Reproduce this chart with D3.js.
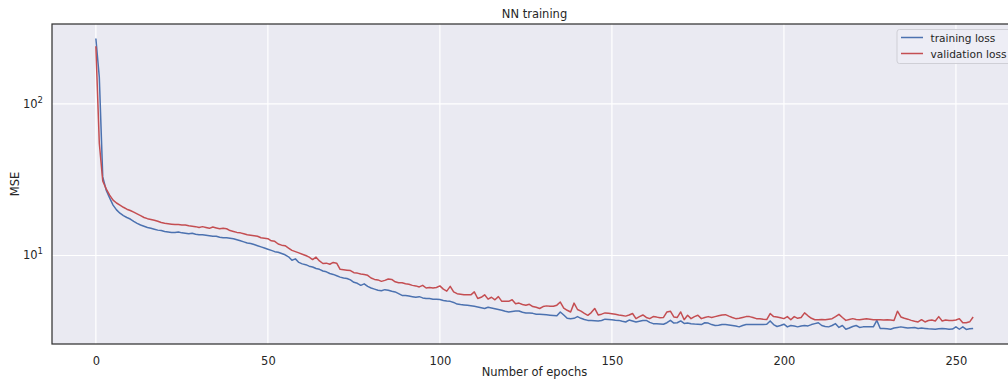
<!DOCTYPE html>
<html><head><meta charset="utf-8">
<script src="https://cdn.jsdelivr.net/npm/d3@7"></script>
<style>body{margin:0;background:#fff}text{font-family:"DejaVu Sans",sans-serif}</style>
</head><body>
<svg id="c" width="1008" height="379"></svg>
<script>
const title = "NN training";
const xLabel = "Number of epochs";
const yLabel = "MSE";
const seriesNames = ["training loss", "validation loss"];
const xTicks = [0, 50, 100, 150, 200, 250];
const yTicks = [10, 100];

const trainingLoss = [
270,150,33,27,24,21.5,20,19,18.3,17.8,
17.4,16.8,16.3,15.9,15.6,15.3,15.1,14.9,14.7,14.6,
14.4,14.3,14.2,14.2,14.3,14.1,14.0,13.9,14.0,13.8,
13.7,13.7,13.6,13.5,13.4,13.4,13.2,13.1,13.1,13.0,
12.9,12.7,12.5,12.3,12.1,12.0,11.8,11.6,11.4,11.2,
11.0,10.8,10.6,10.5,10.3,10.1,9.8,9.3,9.5,9.0,
8.8,8.7,8.5,8.4,8.2,8.1,7.9,7.8,7.6,7.5,
7.35,7.2,7.1,7.05,6.9,6.65,6.55,6.35,6.5,6.25,
6.1,6.0,5.9,5.85,5.95,5.9,5.8,5.75,5.6,5.45,
5.45,5.4,5.35,5.3,5.35,5.25,5.2,5.2,5.15,5.15,
5.12,5.05,5.0,4.98,4.9,4.78,4.74,4.72,4.7,4.66,
4.62,4.57,4.52,4.47,4.55,4.5,4.45,4.4,4.35,4.28,
4.24,4.27,4.3,4.3,4.22,4.18,4.18,4.15,4.1,4.09,
4.08,4.06,4.04,4.02,4.0,4.24,4.05,3.85,3.83,3.85,
3.95,3.85,3.78,3.73,3.72,3.71,3.7,3.72,3.8,3.78,
3.76,3.74,3.73,3.68,3.64,3.75,3.7,3.64,3.68,3.72,
3.73,3.62,3.55,3.54,3.53,3.52,3.6,3.73,3.58,3.6,
3.7,3.56,3.58,3.55,3.53,3.52,3.5,3.6,3.58,3.5,
3.45,3.46,3.5,3.5,3.48,3.45,3.42,3.38,3.45,3.5,
3.5,3.5,3.5,3.5,3.5,3.52,3.7,3.5,3.4,3.45,
3.52,3.38,3.45,3.42,3.38,3.42,3.45,3.43,3.5,3.55,
3.6,3.45,3.4,3.38,3.45,3.55,3.35,3.45,3.26,3.32,
3.4,3.45,3.35,3.38,3.38,3.38,3.38,3.73,3.3,3.3,
3.28,3.26,3.32,3.35,3.38,3.35,3.32,3.34,3.35,3.3,
3.32,3.3,3.28,3.27,3.26,3.28,3.3,3.28,3.26,3.27,
3.38,3.26,3.38,3.25,3.28,3.3
];

const validationLoss = [
240,55,31,27.5,25,23.2,22.2,21.5,20.8,20.2,
19.8,19.3,18.8,18.3,17.8,17.5,17.3,17.1,16.8,16.5,
16.3,16.2,16.1,16.0,16.0,15.9,15.9,15.7,15.6,15.5,
15.3,15.5,15.3,15.1,15.4,15.2,15.0,15.1,15.0,14.6,
14.4,14.2,14.1,13.9,13.7,13.6,13.5,13.4,13.1,13.0,
12.9,12.5,12.4,11.9,11.7,11.6,11.2,10.8,10.6,10.4,
10.2,10.0,9.75,9.4,9.75,9.2,8.85,8.9,8.75,9.0,
8.9,8.1,8.05,8.0,7.95,7.7,7.65,7.55,7.5,7.4,
7.1,6.95,6.9,6.75,6.85,7.0,6.95,6.7,6.6,6.6,
6.5,6.45,6.35,6.3,6.2,6.35,6.1,6.15,6.1,6.15,
6.3,6.0,5.82,6.25,5.75,5.6,5.55,5.5,5.5,5.5,
5.75,5.2,5.3,5.5,5.15,5.3,5.1,5.35,4.98,4.98,
4.98,5.1,4.8,4.85,4.75,4.69,4.76,4.6,4.55,4.47,
4.6,4.65,4.62,4.62,4.7,4.93,4.5,4.35,4.24,4.85,
4.4,4.29,4.15,4.03,4.2,4.47,4.05,4.1,4.18,4.15,
4.12,4.09,4.05,4.02,3.98,4.05,4.14,3.83,3.95,4.05,
3.9,3.83,3.95,3.92,3.88,3.9,4.24,4.29,3.93,3.9,
4.24,3.77,4.03,3.83,3.95,4.03,3.83,3.9,3.95,3.9,
3.95,4.0,4.05,4.07,3.98,3.9,3.83,3.85,3.9,3.95,
3.95,3.9,3.83,3.83,3.8,3.78,4.14,3.95,3.93,3.88,
3.83,3.95,3.77,3.95,3.85,3.9,4.18,4.0,3.85,3.77,
3.77,3.78,3.77,3.8,3.83,3.95,4.09,3.9,3.73,3.78,
3.83,3.78,3.77,3.8,3.83,3.8,3.77,3.77,3.77,3.75,
3.77,3.75,3.73,4.29,3.93,3.85,3.8,3.73,3.68,3.64,
3.77,3.64,3.72,3.75,3.7,3.95,3.7,3.75,3.72,3.73,
3.75,3.83,3.6,3.6,3.65,3.93
];

const colors = ["#4C72B0", "#C44E52"];
const series = [trainingLoss, validationLoss];

const FS = 11.5;
const m = {left: 52, top: 24, right: 1017, bottom: 344};
const svg = d3.select("#c");

const n = trainingLoss.length;
const xPad = (n - 1) * 0.05;
const x = d3.scaleLinear().domain([-xPad, (n - 1) + xPad]).range([m.left, m.right]);

const allV = trainingLoss.concat(validationLoss);
const lmin = Math.log10(d3.min(allV)), lmax = Math.log10(d3.max(allV));
const lpad = (lmax - lmin) * 0.05;
const y = d3.scaleLog().domain([Math.pow(10, lmin - lpad), Math.pow(10, lmax + lpad)]).range([m.bottom, m.top]);

svg.append("rect").attr("x", m.left).attr("y", m.top)
  .attr("width", m.right - m.left).attr("height", m.bottom - m.top).attr("fill", "#EAEAF2");

// grid
const g = svg.append("g");
xTicks.forEach(t => g.append("line").attr("x1", x(t)).attr("x2", x(t))
  .attr("y1", m.top).attr("y2", m.bottom).attr("stroke", "#fff").attr("stroke-width", 1.2));
yTicks.forEach(t => g.append("line").attr("x1", m.left).attr("x2", m.right)
  .attr("y1", y(t)).attr("y2", y(t)).attr("stroke", "#fff").attr("stroke-width", 1.2));

// lines
const line = d3.line().x((d, i) => x(i)).y(d => y(d));
series.forEach((s, k) => svg.append("path").datum(s).attr("d", line)
  .attr("fill", "none").attr("stroke", colors[k]).attr("stroke-width", 1.5)
  .attr("stroke-linejoin", "round"));

// frame
svg.append("rect").attr("x", m.left).attr("y", m.top)
  .attr("width", m.right - m.left).attr("height", m.bottom - m.top)
  .attr("fill", "none").attr("stroke", "#333").attr("stroke-width", 1.25);

// x axis
const xa = svg.append("g").attr("transform", `translate(0,${m.bottom})`)
  .call(d3.axisBottom(x).tickValues(xTicks).tickSize(0).tickPadding(13));
xa.select(".domain").remove();
xa.selectAll("text").attr("font-size", FS).attr("fill", "#262626").attr("font-family", "DejaVu Sans");

// y axis with superscript labels
const ya = svg.append("g");
yTicks.forEach(t => {
  const e = Math.round(Math.log10(t));
  const tx = ya.append("text").attr("x", m.left - 9).attr("y", y(t) + 4)
    .attr("text-anchor", "end").attr("font-size", FS).attr("fill", "#262626");
  tx.append("tspan").text("10");
  tx.append("tspan").attr("dy", -5).attr("font-size", 8.5).text(String(e));
});

svg.append("text").attr("x", (m.left + m.right) / 2).attr("y", 18)
  .attr("text-anchor", "middle").attr("font-size", FS).attr("fill", "#262626").text(title);
svg.append("text").attr("x", (m.left + m.right) / 2).attr("y", 376)
  .attr("text-anchor", "middle").attr("font-size", FS).attr("fill", "#262626").text(xLabel);
svg.append("text").attr("transform", `translate(18.5,${(m.top + m.bottom) / 2}) rotate(-90)`)
  .attr("text-anchor", "middle").attr("font-size", FS).attr("fill", "#262626").text(yLabel);

// legend
const lg = svg.append("g");
lg.append("rect").attr("x", 897).attr("y", 29.5).attr("width", 116).attr("height", 34)
  .attr("rx", 2.5).attr("fill", "#EEEEF5").attr("fill-opacity", 0.8)
  .attr("stroke", "#cfcfd6").attr("stroke-width", 1);
seriesNames.forEach((nm, k) => {
  const yy = 37.5 + k * 16;
  lg.append("line").attr("x1", 901).attr("x2", 923).attr("y1", yy).attr("y2", yy)
    .attr("stroke", colors[k]).attr("stroke-width", 1.5);
  lg.append("text").attr("x", 930.5).attr("y", yy + 4).attr("font-size", 10.6)
    .attr("fill", "#262626").text(nm);
});
</script>
</body></html>
